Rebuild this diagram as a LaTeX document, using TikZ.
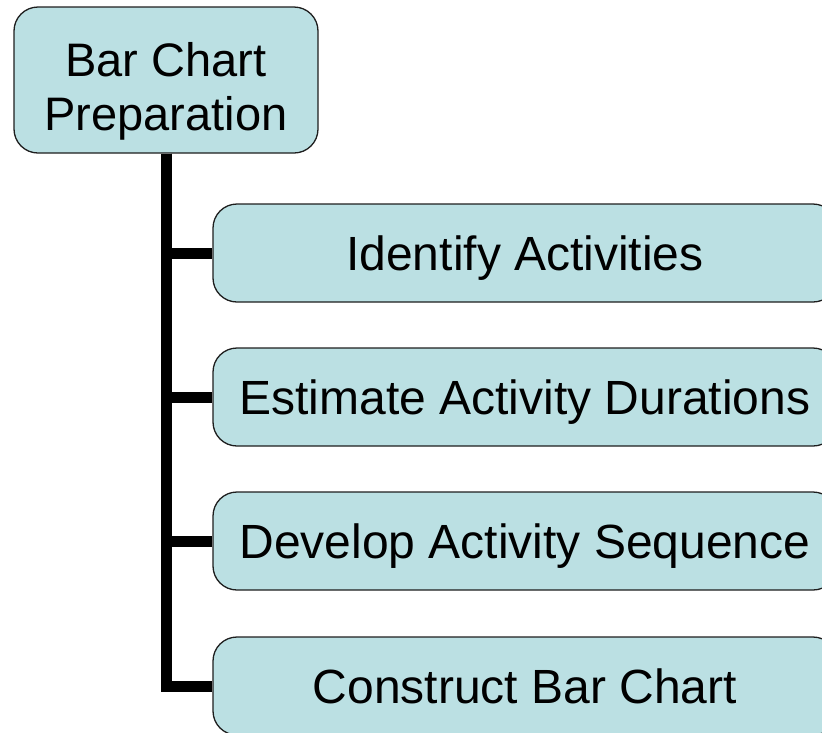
\documentclass[tikz,border=0pt]{standalone}
\usepackage{fontspec}
\setmainfont{Liberation Sans}
\usepackage{tikz}

\definecolor{boxblue}{RGB}{187,224,227}
\definecolor{boxline}{RGB}{30,30,30}

\begin{document}
\begin{tikzpicture}[x=1pt, y=-1pt,
  box/.style={shape=rectangle, rounded corners=24pt, draw=boxline, line width=1.3pt, fill=boxblue,
    inner sep=0pt, align=center},
  rootbox/.style={box, font=\fontsize{47}{54}\selectfont, text height=100pt, text depth=0pt,
    minimum width=304pt, minimum height=146pt},
  taskbox/.style={box, font=\fontsize{48}{55}\selectfont, text height=34.5pt, text depth=0pt,
    minimum width=624pt, minimum height=98pt},
  link/.style={line width=11pt, black}]
\clip (0,0) rectangle (822,732);
\useasboundingbox (0,0) rectangle (822,732);

\node[rootbox](prep) at (166,80) {Bar Chart\\Preparation};
\node[taskbox](identify) at (525,253) {Identify Activities};
\node[taskbox](estimate) at (525,397) {Estimate Activity Durations};
\node[taskbox](develop) at (525,541) {Develop Activity Sequence};
\node[taskbox](construct) at (525,686) {Construct Bar Chart};

\draw[link] (prep.south) |- (identify.west);
\draw[link] (prep.south) |- (estimate.west);
\draw[link] (prep.south) |- (develop.west);
\draw[link] (prep.south) |- (construct.west);
\end{tikzpicture}
\end{document}
